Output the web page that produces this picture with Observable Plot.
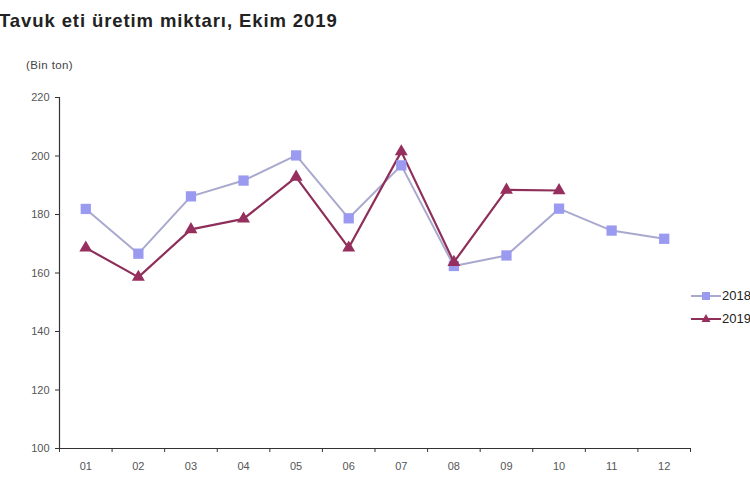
<!DOCTYPE html>
<html>
<head>
<meta charset="utf-8">
<script src="https://cdn.jsdelivr.net/npm/d3@7"></script>
<script src="https://cdn.jsdelivr.net/npm/@observablehq/plot@0.6"></script>
<style>
  html, body { margin: 0; padding: 0; background: #fff; overflow: hidden; }
  #wrap { position: relative; width: 750px; height: 500px; overflow: hidden; font-family: "Liberation Sans", Arial, sans-serif; }
  #title { position: absolute; left: -1px; top: 10px; font-size: 18.5px; letter-spacing: 0.9px; font-weight: bold; color: #222; white-space: nowrap; }
  #unit { position: absolute; left: 26px; top: 59px; font-size: 11.5px; letter-spacing: 0.4px; color: #444; }
  #chart { position: absolute; left: 0; top: 0; }
  #legend { position: absolute; left: 689px; top: 284px; font-size: 13px; color: #222; }
  .row { display: flex; align-items: center; height: 23px; white-space: nowrap; }
</style>
</head>
<body>
<div id="wrap">
  <div id="chart"></div>
  <div id="title">Tavuk eti üretim miktarı, Ekim 2019</div>
  <div id="unit">(Bin ton)</div>
  <div id="legend"></div>
</div>
<script>
const months = ["01","02","03","04","05","06","07","08","09","10","11","12"];
const values2018 = [181.9, 166.6, 186.2, 191.6, 200.2, 178.7, 196.8, 162.4, 166.0, 182.0, 174.5, 171.7];
const values2019 = [168.6, 158.6, 174.9, 178.5, 192.8, 168.6, 201.5, 163.7, 188.4, 188.2];
const yTicks = [100, 120, 140, 160, 180, 200, 220];
const seriesNames = ["2018", "2019"];
const colors = { "2018": { line: "#a9a9cf", marker: "#9a9af0", symbol: "square", r: 5.8 },
                 "2019": { line: "#8e2f5a", marker: "#962f5e", symbol: "triangle", r: 4.8 } };

const rows = [];
values2018.forEach((v, i) => rows.push({ series: "2018", month: i + 1, value: v }));
values2019.forEach((v, i) => rows.push({ series: "2019", month: i + 1, value: v }));
const boundaries = d3.range(0, months.length + 1).map(i => i + 0.5);

const marks = [];
for (const s of seriesNames) {
  const data = rows.filter(d => d.series === s);
  marks.push(Plot.line(data, { x: "month", y: "value", stroke: colors[s].line, strokeWidth: s === "2019" ? 2.2 : 2 }));
}
for (const s of seriesNames) {
  const data = rows.filter(d => d.series === s);
  marks.push(Plot.dot(data, { x: "month", y: "value", symbol: () => colors[s].symbol, fill: colors[s].marker, stroke: "none", r: colors[s].r }));
}

const chart = Plot.plot({
  width: 750,
  height: 500,
  marginLeft: 59,
  marginRight: 60,
  marginTop: 97,
  marginBottom: 52,
  style: { fontFamily: "Liberation Sans, Arial, sans-serif", fontSize: "10px", background: "transparent" },
  symbol: { type: "identity" },
  x: { type: "linear", domain: [0.5, months.length + 0.5] },
  y: { domain: [100, 220] },
  marks: [
    Plot.axisY({ ticks: yTicks, tickSize: 4, tickPadding: 6, label: null, color: "#555", stroke: "#333", fontSize: 11 }),
    Plot.axisX({ ticks: boundaries, tickSize: 4, tickFormat: () => "", label: null, stroke: "#333" }),
    Plot.axisX({ ticks: d3.range(1, months.length + 1), tickSize: 0, tickPadding: 14, tickFormat: d => months[d - 1], label: null, color: "#555", fontSize: 11 }),
    Plot.ruleX([0.5], { y1: 100, y2: 220, stroke: "#333", strokeWidth: 1.2 }),
    Plot.ruleY([100], { stroke: "#333", strokeWidth: 1.2 }),
    ...marks
  ]
});
document.getElementById("chart").appendChild(chart);

const legend = document.getElementById("legend");
for (const s of seriesNames) {
  const row = document.createElement("div");
  row.className = "row";
  const marker = colors[s].symbol === "square"
    ? `<rect x="13" y="6" width="8" height="8" fill="${colors[s].marker}"/>`
    : `<path d="M17,5 L21.5,13 L12.5,13 Z" fill="${colors[s].marker}"/>`;
  row.innerHTML = `<svg width="33" height="20"><line x1="2" y1="10" x2="32" y2="10" stroke="${colors[s].line}" stroke-width="2"/>${marker}</svg><span>${s}</span>`;
  legend.appendChild(row);
}
</script>
</body>
</html>
